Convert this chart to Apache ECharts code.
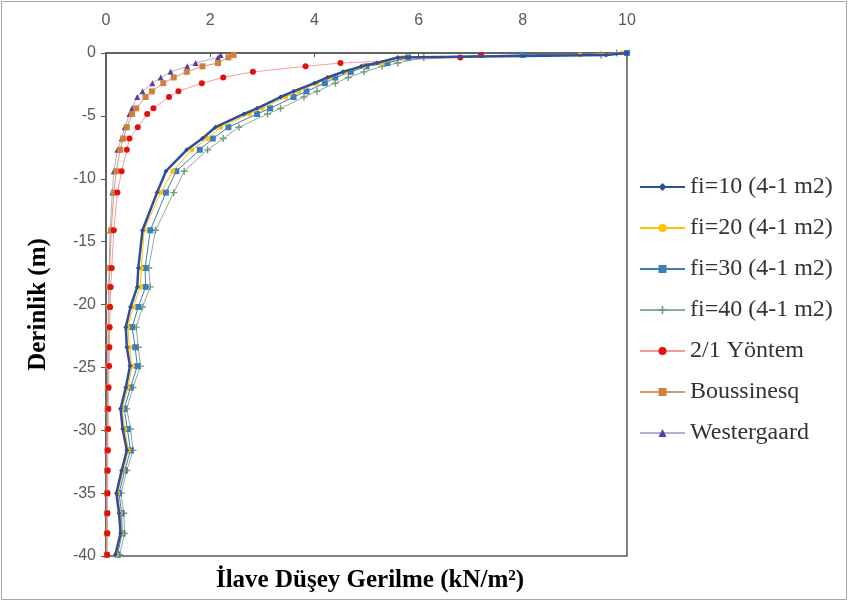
<!DOCTYPE html>
<html>
<head>
<meta charset="utf-8">
<script src="https://cdn.jsdelivr.net/npm/echarts@6/dist/echarts.min.js"></script>
<style>
html,body{margin:0;padding:0;background:#fff;}
#c{width:848px;height:601px;}
</style>
</head>
<body>
<div id="c"></div>
<script>
// Depth (m), shared by all series
var depths = [0, -0.15, -0.35, -0.8, -1.06, -1.5, -1.95, -2.4, -3.05, -3.5, -4.4, -4.85, -5.9, -6.8, -7.7, -9.4, -11.1, -14.1, -17.1, -18.6, -20.2, -21.8, -23.4, -24.9, -26.6, -28.3, -29.9, -31.6, -33.2, -35.0, -36.6, -38.2, -39.9];

var seriesNames = ['fi=10 (4-1 m2)', 'fi=20 (4-1 m2)', 'fi=30 (4-1 m2)', 'fi=40 (4-1 m2)', '2/1 Yöntem', 'Boussinesq', 'Westergaard'];

var fi10 = [10.0, 9.6, 5.6, 5.2, 4.9, 4.55, 4.25, 4.0, 3.6, 3.35, 2.9, 2.65, 2.1, 1.85, 1.55, 1.15, 0.98, 0.70, 0.62, 0.60, 0.47, 0.38, 0.40, 0.46, 0.38, 0.28, 0.32, 0.40, 0.30, 0.20, 0.25, 0.28, 0.18];
var fi20 = [9.9, 9.1, 5.7, 5.3, 4.95, 4.6, 4.3, 4.05, 3.7, 3.45, 3.0, 2.75, 2.2, 1.95, 1.65, 1.28, 1.05, 0.73, 0.68, 0.66, 0.52, 0.42, 0.45, 0.50, 0.42, 0.31, 0.36, 0.43, 0.33, 0.22, 0.27, 0.30, 0.20];
var fi30 = [10.0, 8.0, 5.8, 5.4, 5.0, 4.7, 4.4, 4.2, 3.85, 3.6, 3.15, 2.9, 2.35, 2.05, 1.8, 1.35, 1.15, 0.85, 0.75, 0.76, 0.62, 0.50, 0.56, 0.60, 0.47, 0.35, 0.41, 0.47, 0.36, 0.25, 0.30, 0.31, 0.22];
var fi40 = [9.8, 9.5, 6.1, 5.6, 5.3, 4.95, 4.65, 4.4, 4.05, 3.8, 3.35, 3.1, 2.55, 2.25, 1.95, 1.5, 1.3, 0.95, 0.82, 0.85, 0.70, 0.58, 0.62, 0.66, 0.52, 0.40, 0.47, 0.52, 0.40, 0.29, 0.34, 0.36, 0.26];
var yontem21 = [null, 7.2, 6.8, 4.5, 3.83, 2.82, 2.25, 1.84, 1.39, 1.21, 0.91, 0.79, 0.61, 0.45, 0.40, 0.30, 0.22, 0.15, 0.11, 0.09, 0.08, 0.07, 0.065, 0.06, 0.05, 0.045, 0.04, 0.035, 0.033, 0.03, 0.027, 0.025, 0.022];
var boussinesq = [null, 2.45, 2.35, 2.15, 1.85, 1.55, 1.3, 1.1, 0.88, 0.76, 0.58, 0.5, 0.4, 0.33, 0.27, 0.2, 0.15, 0.10, 0.07, 0.06, 0.055, 0.05, 0.045, 0.04, 0.035, 0.03, 0.028, 0.025, 0.022, 0.02, 0.018, 0.016, 0.015];
var westergaard = [null, 2.2, 2.15, 1.72, 1.56, 1.24, 1.05, 0.89, 0.70, 0.60, 0.50, 0.45, 0.36, 0.30, 0.22, 0.15, 0.12, 0.08, 0.06, 0.05, 0.045, 0.04, 0.035, 0.03, 0.028, 0.025, 0.022, 0.02, 0.018, 0.016, 0.014, 0.013, 0.012];

var xTicks = [0, 2, 4, 6, 8, 10];
var yTicks = [0, -5, -10, -15, -20, -25, -30, -35, -40];

function pairs(vals) {
  var out = [];
  for (var i = 0; i < depths.length; i++) {
    if (vals[i] !== null) out.push([vals[i], depths[i]]);
  }
  return out;
}

var styles = [
  {line: '#2F4E9A', width: 2.5, marker: '#2F4E9A', symbol: 'diamond', size: 5},
  {line: '#FFC000', width: 1, marker: '#FFC000', symbol: 'circle', size: 5},
  {line: '#3C7DB8', width: 1, marker: '#3C7DB8', symbol: 'rect', size: 6},
  {line: '#8AAE96', width: 1, marker: '#6F9C7D', symbol: 'path://M-1,-5L1,-5L1,-1L5,-1L5,1L1,1L1,5L-1,5L-1,1L-5,1L-5,-1L-1,-1Z', size: 7},
  {line: '#F59A9A', width: 1, marker: '#E01010', symbol: 'circle', size: 6},
  {line: '#D69A6A', width: 1, marker: '#D0803E', symbol: 'rect', size: 6},
  {line: '#B8A8DC', width: 1, marker: '#5A3E9C', symbol: 'triangle', size: 6}
];
var dataArr = [fi10, fi20, fi30, fi40, yontem21, boussinesq, westergaard];

var series = seriesNames.map(function (n, i) {
  var s = styles[i];
  return {
    name: n,
    type: 'line',
    data: pairs(dataArr[i]),
    symbol: s.symbol,
    symbolSize: s.size,
    showSymbol: true,
    lineStyle: {color: s.line, width: s.width},
    itemStyle: {color: s.marker},
    z: 10 - i,
    animation: false
  };
});

var chart = echarts.init(document.getElementById('c'), null, {renderer: 'canvas'});
chart.setOption({
  animation: false,
  backgroundColor: '#fff',
  grid: {left: 106, right: 221, top: 53, bottom: 45, show: true, borderColor: '#595959', borderWidth: 1.5, backgroundColor: 'transparent'},
  xAxis: {
    type: 'value', position: 'top', min: 0, max: 10, interval: 2,
    axisLine: {show: true, lineStyle: {color: '#595959', width: 1.5}},
    axisTick: {show: true, inside: true, length: 4, lineStyle: {color: '#595959'}},
    axisLabel: {color: '#595959', fontSize: 16, fontFamily: 'Liberation Sans', margin: 24,
      formatter: function (v) { return xTicks.indexOf(v) >= 0 ? String(v) : ''; }},
    splitLine: {show: false}
  },
  yAxis: {
    type: 'value', min: -40, max: 0, interval: 5,
    name: 'Derinlik (m)', nameLocation: 'middle', nameGap: 55, nameRotate: 90,
    nameTextStyle: {fontFamily: 'Liberation Serif', fontWeight: 'bold', fontSize: 25, color: '#000'},
    axisLine: {show: true, lineStyle: {color: '#595959', width: 1.5}},
    axisTick: {show: true, length: 5, lineStyle: {color: '#595959'}},
    axisLabel: {color: '#595959', fontSize: 16, fontFamily: 'Liberation Sans', margin: 10,
      formatter: function (v) { return yTicks.indexOf(v) >= 0 ? String(v) : ''; }},
    splitLine: {show: false}
  },
  legend: {
    orient: 'vertical', left: 634, top: 170, itemGap: 17, itemWidth: 45, itemHeight: 10,
    data: seriesNames,
    textStyle: {fontFamily: 'Liberation Serif', fontSize: 24, color: '#333'}
  },
  graphic: [
    {type: 'rect', shape: {x: 1.5, y: 1.5, width: 845, height: 598}, style: {fill: 'none', stroke: '#A6A6A6', lineWidth: 1}, silent: true},
    {type: 'text', x: 370, y: 581, style: {text: 'İlave Düşey Gerilme (kN/m²)', font: 'bold 25px "Liberation Serif"', fill: '#000', textAlign: 'center', textVerticalAlign: 'middle'}}
  ],
  series: series
});
</script>
</body>
</html>
